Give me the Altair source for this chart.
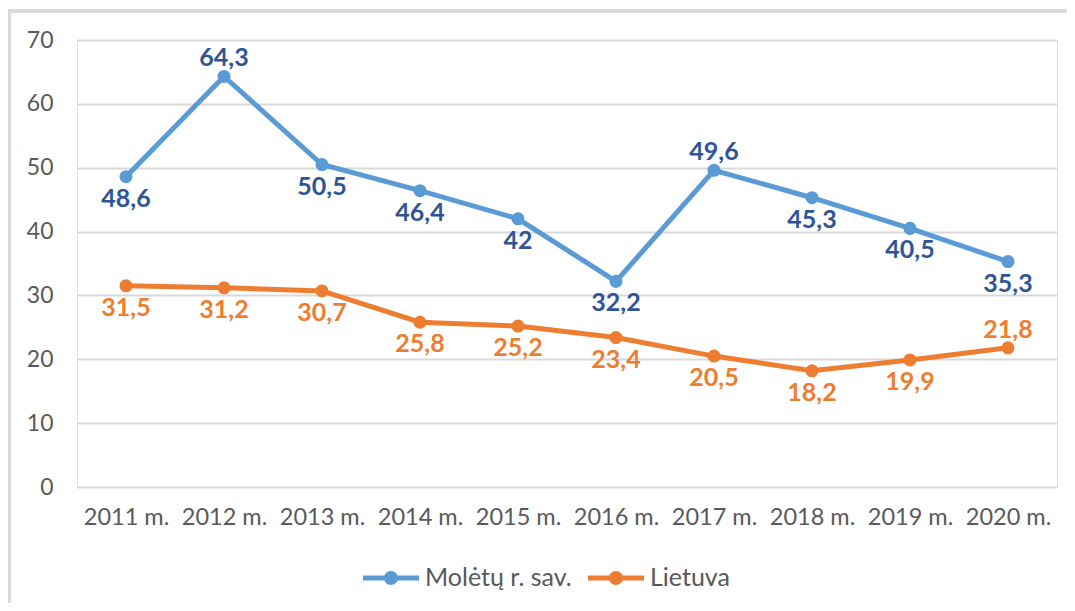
import altair as alt
import pandas as pd

years = ["2011 m.", "2012 m.", "2013 m.", "2014 m.", "2015 m.",
         "2016 m.", "2017 m.", "2018 m.", "2019 m.", "2020 m."]
series_names = ["Molėtų r. sav.", "Lietuva"]
moletai = [48.6, 64.3, 50.5, 46.4, 42.0, 32.2, 49.6, 45.3, 40.5, 35.3]
lietuva = [31.5, 31.2, 30.7, 25.8, 25.2, 23.4, 20.5, 18.2, 19.9, 21.8]
moletai_place = ["below", "above", "below", "below", "below",
                 "below", "above", "below", "below", "below"]
lietuva_place = ["below"] * 9 + ["above"]
y_ticks = [0, 10, 20, 30, 40, 50, 60, 70]

line_colors = ["#5B9BD5", "#ED7D31"]
label_colors = ["#2F5597", "#ED7D31"]
FONT = "Lato"
GREY = "#595959"

rows = []
for name, vals, places in [(series_names[0], moletai, moletai_place),
                           (series_names[1], lietuva, lietuva_place)]:
    for yr, v, p in zip(years, vals, places):
        rows.append({"year": yr, "series": name, "value": v,
                     "label": (f"{v:g}").replace(".", ","), "place": p})
df = pd.DataFrame(rows)

W, H = 980, 447

x_enc = alt.X("year:N", sort=years, title=None,
              scale=alt.Scale(paddingInner=0, paddingOuter=0.5),
              axis=alt.Axis(labelAngle=0, domain=False, ticks=False,
                            labelFontSize=23.5, labelColor=GREY, labelFont=FONT,
                            labelPadding=18, grid=False))
y_enc = alt.Y("value:Q", title=None,
              scale=alt.Scale(domain=[0, 70], nice=False),
              axis=alt.Axis(values=y_ticks, domain=False, ticks=False,
                            labelFontSize=23, labelColor=GREY, labelFont=FONT,
                            labelPadding=24, gridColor="#D9D9D9", gridWidth=2))

color_scale = alt.Scale(domain=series_names, range=line_colors)

legend_path = ("M-1,-0.09H1V0.09H-1Z"
               "M0.25,0A0.25,0.25,0,1,1,-0.25,0A0.25,0.25,0,1,1,0.25,0Z")

base = alt.Chart(df)

lines = base.mark_line(strokeWidth=5).encode(
    x=x_enc, y=y_enc,
    color=alt.Color("series:N", scale=color_scale, legend=None),
)
points = base.mark_point(filled=True, size=170, opacity=1).encode(
    x=x_enc, y=y_enc,
    color=alt.Color("series:N", scale=color_scale,
                    legend=alt.Legend(title=None, orient="none", direction="horizontal",
                                      legendX=286, legendY=510,
                                      symbolType=legend_path, symbolSize=3136,
                                      symbolStrokeWidth=0, symbolOpacity=1,
                                      labelFontSize=25, labelColor=GREY, labelFont=FONT,
                                      labelOffset=6, columnPadding=16)),
)

label_scale = alt.Scale(domain=series_names, range=label_colors)
labels_below = base.transform_filter(alt.datum.place == "below").mark_text(
    font=FONT, fontSize=25, fontWeight="bold", dy=22, baseline="middle"
).encode(x=x_enc, y=y_enc, text="label:N",
         color=alt.Color("series:N", scale=label_scale, legend=None))
labels_above = base.transform_filter(alt.datum.place == "above").mark_text(
    font=FONT, fontSize=25, fontWeight="bold", dy=-18, baseline="middle"
).encode(x=x_enc, y=y_enc, text="label:N",
         color=alt.Color("series:N", scale=label_scale, legend=None))

frame_left = base.mark_rule(color="#D9D9D9", strokeWidth=2.5).encode(
    x=alt.value(-68), y=alt.value(-29), y2=alt.value(580))
frame_top = base.mark_rule(color="#D9D9D9", strokeWidth=2.5).encode(
    x=alt.value(-69), x2=alt.value(1000), y=alt.value(-29))

chart = alt.layer(
    frame_left, frame_top, lines, points, labels_below, labels_above
).resolve_scale(color="independent").properties(
    width=W, height=H,
    autosize=alt.AutoSizeParams(type="none"),
    padding={"left": 69, "top": 32, "right": 10, "bottom": 116},
).configure_view(stroke=None).configure(background="white")

chart.save("out.html", embed_options={"renderer": "svg", "actions": False})
